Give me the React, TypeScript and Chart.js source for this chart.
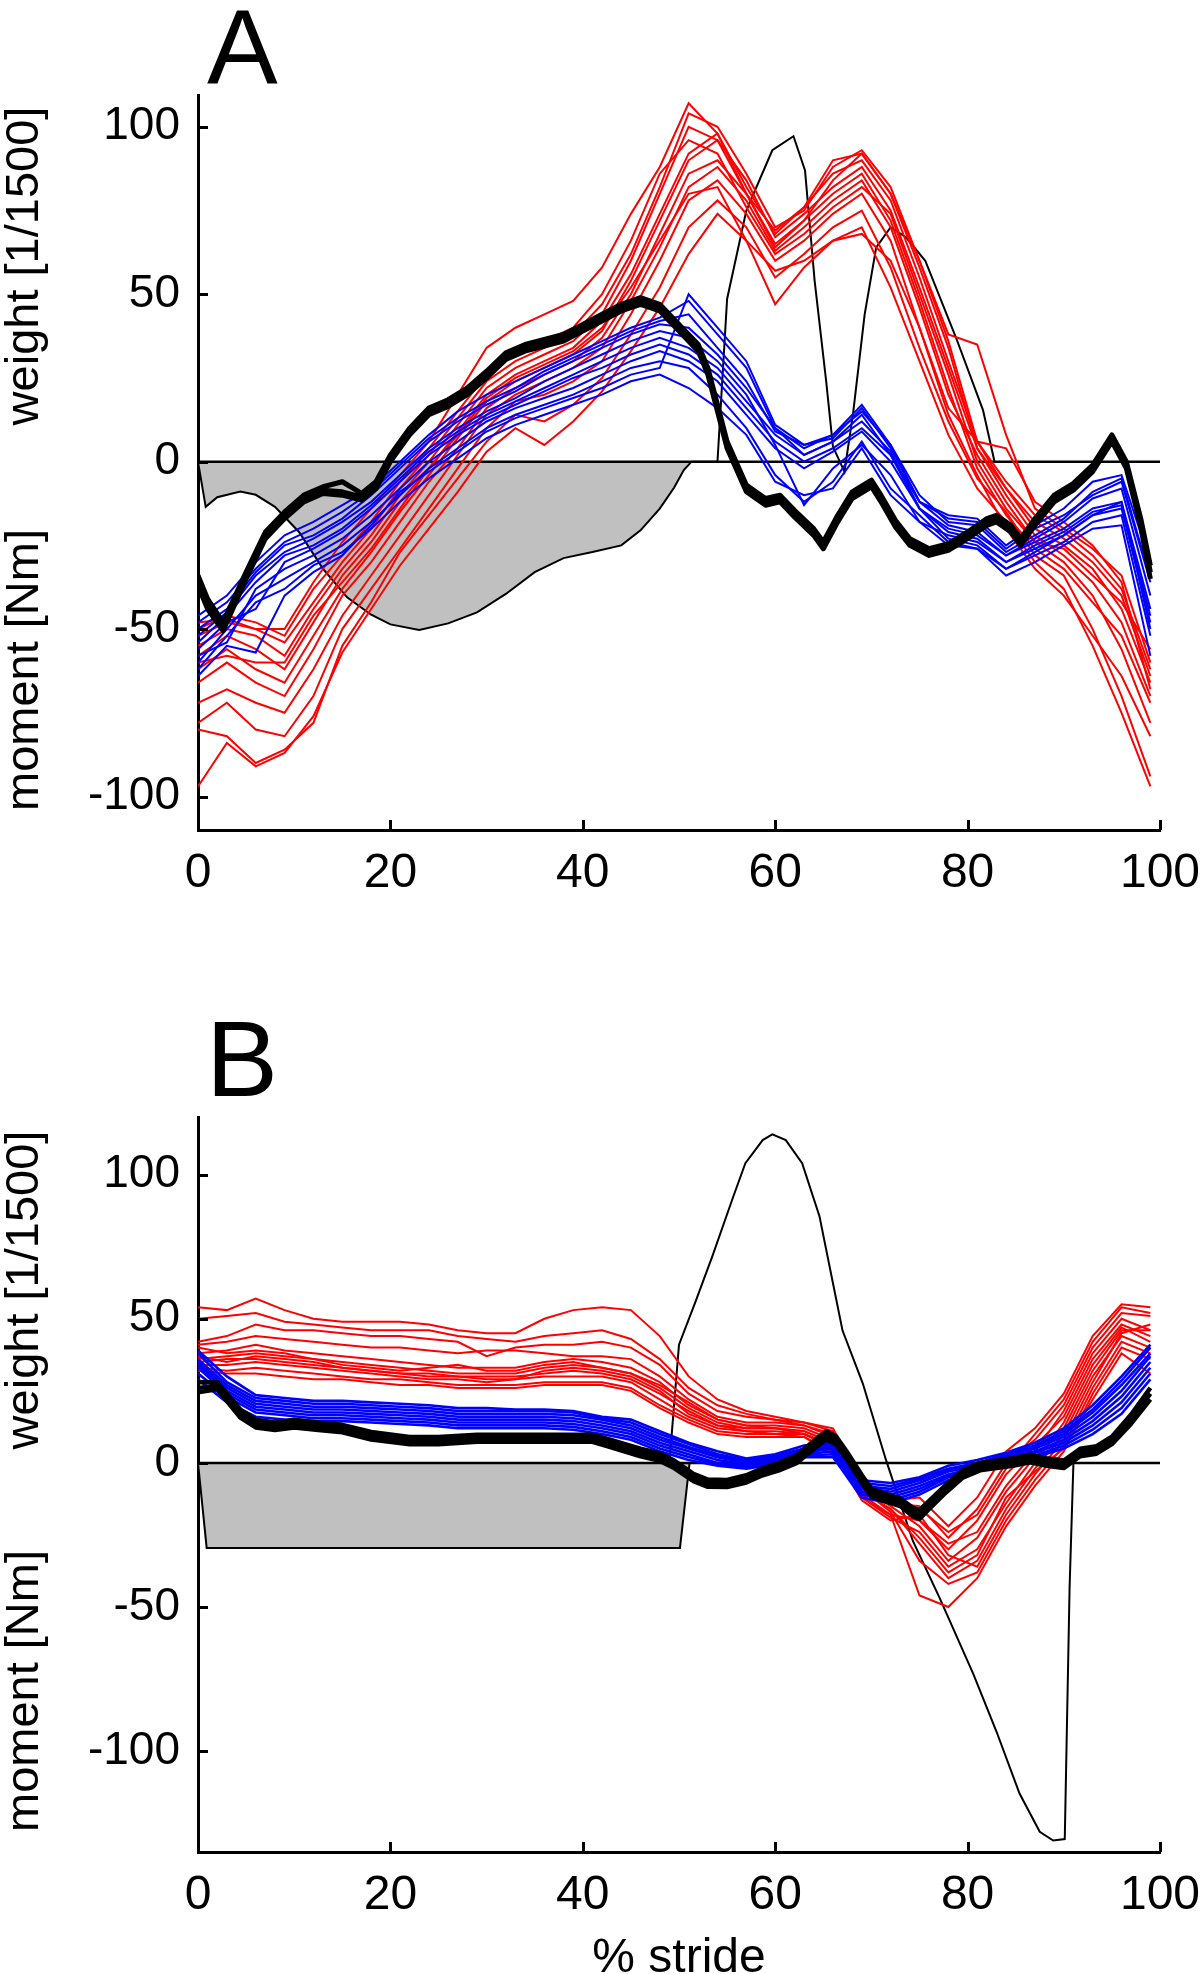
import React, { useEffect, useRef } from "react";
import { Chart, registerables } from "chart.js";

Chart.register(...registerables);

const FONT = "'Liberation Sans', Arial, Helvetica, sans-serif";

// ---------- shared axis values ----------
const xTickValues = [0, 20, 40, 60, 80, 100];
const yTickValues = [-100, -50, 0, 50, 100];
const zeroLineStride = [0, 100];
const zeroLineValue = [0, 0];

// common % stride grid for red / blue curves
const strideGrid = [0, 3, 6, 9, 12, 15, 18, 21, 24, 27, 30, 33, 36, 39, 42, 45, 48, 51, 54, 57, 60, 63, 66, 69, 72, 75, 78, 81, 84, 87, 90, 93, 96, 99];

// ================= PANEL A =================
const blackStrideA = [0, 1, 2.6, 5, 7, 9, 11, 13, 15, 17, 18.5, 20, 22, 24, 26, 28, 30, 32, 34, 36, 38, 40, 42, 44, 46, 48, 50, 52, 53, 54, 55, 57, 59, 60.5, 62, 64, 65, 66.5, 68, 70, 71, 72.5, 74, 76, 78, 80, 82, 83, 84.5, 85.5, 87, 89, 91, 93, 95, 96.5, 98, 99];
const blackA1 = [-35, -42, -49, -34, -22, -16, -11, -8.5, -9, -10.5, -7, 1, 9, 15, 17.5, 21, 26, 31.5, 34, 35.5, 37, 40, 43, 46, 48, 46, 40, 34, 27, 16, 5, -8, -12, -11, -15.5, -21, -25, -17, -10, -6.5, -11, -18.5, -24, -27, -25.5, -22, -18, -17, -20, -24, -18, -11, -7.5, -2, 7, -1, -18, -33];
const blackA2 = [-34, -41, -48, -33, -21, -15, -10, -7.5, -6, -9.5, -6, 2, 10, 16, 18.5, 22, 27, 32.5, 35, 36.5, 38, 41, 44, 47, 49, 47, 41, 35, 28, 17, 6, -7, -11, -10, -14.5, -20, -24, -16, -9, -5.5, -10, -17.5, -23, -26, -24.5, -21, -17, -16, -19, -23, -17, -10, -6.5, -1, 8, 0, -17, -31];
const blackA3 = [-37, -44, -50.5, -35, -23, -17, -12, -9.5, -10, -11.5, -8, 0, 8, 14, 16.5, 20, 25, 30.5, 33, 34.5, 36, 39, 42, 45, 47, 45, 39, 33, 26, 15, 4, -9, -13, -12, -16.5, -22, -26, -18, -11, -7.5, -12, -19.5, -25, -28, -26.5, -23, -19, -18, -21, -25, -19, -12, -8.5, -3, 6, -2, -19.5, -35];

const redA = [
  [-97, -84, -91, -87, -76, -57, -44, -31, -20, -9, 3, 10, 5, 12, 21, 33, 46, 62, 74, 66, 57, 60, 66, 70, 52, 30, 8, -8, -18, -30, -38, -55, -75, -97],
  [-80, -82, -90, -86, -78, -55, -42, -27, -16, -5, 6, 14, 12, 17, 25, 38, 52, 70, 78, 70, 55, 62, 70, 75, 58, 34, 12, -5, -15, -28, -34, -50, -70, -94],
  [-78, -72, -80, -82, -70, -50, -38, -26, -14, -2, 10, 18, 20, 24, 30, 44, 60, 78, 84, 74, 60, 66, 74, 80, 66, 40, 14, -4, -20, -32, -40, -52, -64, -82],
  [-72, -68, -72, -75, -62, -46, -34, -22, -10, 2, 14, 20, 24, 28, 34, 48, 64, 82, 88, 78, 63, 70, 78, 84, 70, 46, 20, 2, -12, -24, -30, -40, -56, -78],
  [-66, -60, -66, -70, -56, -40, -30, -18, -6, 4, 16, 22, 26, 30, 37, 50, 68, 86, 90, 80, 65, 72, 80, 86, 72, 48, 22, -2, -16, -26, -32, -42, -52, -72],
  [-62, -56, -62, -66, -52, -38, -27, -15, -4, 7, 18, 24, 28, 32, 39, 54, 72, 90, 96, 84, 67, 74, 82, 88, 75, 52, 28, 4, -10, -22, -28, -36, -48, -70],
  [-58, -52, -56, -62, -48, -34, -24, -12, -2, 9, 20, 26, 30, 34, 42, 56, 74, 92, 98, 82, 68, 76, 86, 90, 78, 55, 30, 6, -8, -20, -25, -32, -44, -66],
  [-55, -50, -52, -58, -44, -32, -22, -10, 0, 11, 22, 28, 32, 36, 44, 60, 80, 100, 96, 80, 64, 72, 84, 92, 80, 58, 34, 4, -8, -18, -23, -30, -40, -64],
  [-52, -48, -50, -54, -42, -30, -20, -8, 2, 13, 24, 30, 34, 38, 47, 62, 82, 104, 100, 86, 70, 75, 88, 93, 82, 60, 36, 6, -6, -16, -21, -28, -38, -62],
  [-50, -46, -48, -52, -38, -28, -18, -6, 4, 15, 26, 32, 36, 40, 50, 66, 86, 96, 92, 76, 62, 68, 76, 82, 74, 50, 26, 0, -14, -24, -26, -34, -42, -56],
  [-48, -47, -50, -50, -36, -24, -14, -4, 6, 20, 34, 40, 44, 48, 58, 74, 88, 107, 98, 80, 69, 76, 90, 92, 80, 60, 38, 35, 8, -14, -20, -26, -34, -60],
  [-60, -58, -60, -60, -46, -36, -26, -14, -2, 8, 19, 25, 29, 33, 40, 52, 66, 80, 82, 66, 47, 58, 66, 68, 60, 40, 16, 6, 4, -12, -18, -25, -36, -68],
];

const blueA = [
  [-62, -52, -42, -38, -31, -27, -20, -12, -5, 1, 7, 11, 14, 17, 20, 24, 26, 22, 16, 8, -6, -10, -8, 4, -10, -18, -22, -24, -30, -26, -22, -16, -14, -48],
  [-60, -50, -40, -35, -30, -25, -18, -10, -2, 4, 10, 14, 17, 20, 24, 28, 30, 28, 20, 10, -4, -12, -6, 6, -8, -16, -24, -26, -32, -28, -24, -18, -16, -52],
  [-58, -54, -38, -32, -28, -23, -16, -8, 0, 6, 12, 16, 19, 22, 26, 30, 33, 30, 24, 14, 4, -2, 3, 9, 0, -14, -20, -22, -28, -24, -20, -14, -12, -44],
  [-56, -48, -44, -30, -26, -21, -14, -6, 2, 8, 13, 17, 21, 25, 28, 32, 35, 32, 26, 16, 6, 0, 4, 10, 2, -12, -17, -18, -26, -20, -16, -10, -6, -36],
  [-54, -46, -36, -28, -25, -20, -13, -5, 3, 9, 14, 18, 22, 26, 30, 34, 37, 34, 28, 18, 8, 2, 6, 12, 3, -14, -21, -23, -30, -25, -21, -15, -13, -46],
  [-52, -45, -34, -27, -23, -18, -12, -4, 4, 10, 15, 19, 24, 28, 32, 36, 39, 37, 30, 20, 5, -13, -2, 5, -4, -18, -25, -26, -34, -30, -25, -20, -19, -58],
  [-50, -44, -33, -25, -22, -17, -10, -2, 6, 12, 17, 21, 26, 30, 34, 38, 41, 40, 32, 22, 10, 4, 8, 15, 5, -10, -18, -19, -27, -22, -17, -9, -5, -35],
  [-48, -42, -32, -24, -20, -15, -9, -1, 7, 13, 18, 22, 27, 31, 35, 39, 42, 44, 34, 24, 9, 5, 7, 16, 4, -12, -19, -21, -28, -23, -18, -11, -8, -40],
  [-46, -40, -30, -22, -18, -13, -8, 0, 8, 15, 20, 24, 28, 32, 36, 40, 43, 48, 38, 28, 10, 2, 6, 14, 2, -14, -23, -25, -32, -27, -22, -16, -12, -50],
  [-64, -55, -57, -40, -33, -28, -19, -9, -3, 3, 9, 13, 16, 19, 22, 26, 28, 50, 40, 30, 11, 5, 8, 17, 5, -12, -16, -17, -25, -19, -14, -6, -4, -30],
];

const stanceStrideA = [0, 0.8, 2, 4.4, 6, 8, 10.5, 13, 15.5, 18, 20, 23, 26, 29, 32, 35, 38, 41, 44, 46, 48, 49.5, 50.5, 51.3];
const stanceMomentA = [0, -13.5, -10.6, -8.9, -9.9, -13.5, -21, -32, -40.5, -45.7, -48.6, -50.3, -48.3, -45, -39.5, -33, -28.8, -27, -25, -20.5, -14, -7.7, -2.5, 0];
const swingStrideA = [51.3, 54, 55, 57, 59.7, 61.9, 63.1, 64.1, 65.3, 66, 67.2, 68.1, 69.3, 70.5, 72, 73.6, 75.6, 78.8, 81.6, 82.8];
const swingMomentA = [0, 0, 48.6, 75, 93, 97.2, 87, 54, 24, 4.5, -3, 14.5, 44, 64, 70, 67, 60, 37, 15.4, 0];

// ================= PANEL B =================
const blackStrideB = [0, 2, 3, 4.4, 6, 8, 10, 12.5, 15, 18, 22, 25, 29, 32, 36, 39, 41, 42.6, 44.3, 46, 48, 49.5, 51.5, 53, 55, 57, 58.7, 60.4, 62.2, 64, 65.3, 66.3, 67.4, 69, 70, 71.5, 73, 74.3, 75, 76, 77.8, 79.5, 81.3, 83, 84.7, 86.5, 88.2, 90, 91.7, 93.4, 95, 97, 99];
const blackB1 = [26, 26.8, 22.7, 17, 13.6, 12.7, 13.6, 12.7, 11.9, 9.4, 7.8, 7.8, 8.6, 8.6, 8.6, 8.6, 8.6, 7, 5.3, 3.6, 2, -0.5, -5, -7, -7.1, -5.5, -3, -1.3, 1.2, 6.1, 9.4, 7.8, 2.8, -5.5, -10.4, -12.1, -13.7, -17, -17.9, -14.6, -8.8, -3.8, -1.3, -0.5, 0.3, 1.5, 0.3, -0.5, 3.6, 4.5, 7.8, 15.2, 24];
const blackB2 = [28, 28, 24, 18.5, 15, 14, 15, 14, 13.2, 10.7, 9, 9, 9.8, 9.8, 9.8, 9.8, 9.8, 8.3, 6.6, 4.9, 3.3, 0.8, -3.8, -5.8, -5.9, -4.3, -1.8, 0, 2.5, 7.6, 11, 9.3, 4.1, -4.2, -9, -10.8, -12.4, -15.5, -16.4, -13.2, -7.5, -2.5, 0, 0.8, 1.6, 2.8, 1.6, 0.8, 4.9, 5.8, 9.1, 16.8, 26];
const blackB3 = [24.5, 25.5, 21.4, 15.7, 12.3, 11.4, 12.3, 11.4, 10.6, 8.1, 6.5, 6.5, 7.3, 7.3, 7.3, 7.3, 7.3, 5.7, 4, 2.3, 0.7, -1.8, -6.3, -8.3, -8.4, -6.8, -4.3, -2.6, -0.1, 4.8, 8.1, 6.5, 1.5, -6.8, -11.7, -13.4, -15, -18.5, -19.4, -16, -10.1, -5.1, -2.6, -1.8, -1, 0.2, -1, -1.8, 2.3, 3.2, 6.5, 13.6, 22];

const redB = [
  [54, 53, 57, 53, 50, 49, 49, 49, 48, 46, 45, 45, 50, 53, 54, 53, 44, 30, 22, 18, 16, 14, 12, -6, -13, -12, -22, -12, 4, 12, 24, 44, 55, 54],
  [50, 51, 52, 49, 48, 47, 46, 46, 46, 44, 43, 42, 44, 45, 46, 43, 36, 26, 20, 17, 15, 14, 11, -8, -14, -15, -26, -16, 0, 8, 20, 40, 52, 51],
  [42, 44, 48, 46, 46, 45, 44, 44, 43, 42, 37, 40, 41, 41, 42, 40, 34, 24, 18, 16, 15, 13, 10, -6, -12, -20, -30, -20, -4, 6, 16, 36, 48, 44],
  [41, 42, 44, 43, 42, 41, 40, 40, 39, 38, 39, 39, 38, 37, 37, 36, 30, 22, 16, 14, 14, 13, 9, -8, -15, -22, -34, -26, -10, 2, 12, 32, 46, 46],
  [38, 39, 41, 39, 38, 37, 36, 35, 34, 33, 33, 33, 35, 36, 35, 33, 28, 20, 15, 13, 13, 12, 8, -10, -16, -28, -40, -34, -16, -2, 10, 30, 44, 40],
  [36, 37, 38, 37, 36, 35, 34, 33, 32, 31, 31, 31, 33, 34, 33, 31, 26, 19, 14, 12, 12, 11, 7, -9, -17, -34, -42, -38, -20, -6, 6, 26, 42, 38],
  [35, 36, 36, 35, 34, 33, 32, 31, 31, 30, 30, 30, 31, 32, 31, 29, 24, 18, 13, 11, 11, 10, 6, -11, -18, -46, -50, -40, -22, -8, 4, 24, 40, 36],
  [34, 34, 35, 34, 33, 32, 31, 30, 29, 29, 28, 29, 30, 30, 30, 28, 22, 16, 12, 11, 10, 10, 5, -12, -19, -24, -36, -30, -14, 0, 14, 34, 47, 42],
  [33, 32, 33, 32, 31, 30, 29, 29, 28, 27, 27, 27, 28, 28, 28, 26, 20, 15, 11, 10, 10, 9, 4, -13, -20, -18, -32, -36, -18, -4, 8, 28, 45, 48],
  [32, 31, 31, 30, 29, 29, 28, 27, 27, 26, 26, 26, 27, 27, 27, 25, 19, 14, 10, 9, 9, 9, 3, -12, -18, -20, -28, -24, -8, 4, 18, 38, 50, 46],
  [40, 38, 39, 38, 36, 34, 33, 32, 33, 34, 32, 32, 34, 35, 33, 31, 27, 21, 15, 13, 12, 11, 7, -7, -14, -16, -24, -18, -2, 10, 22, 42, 54, 52],
  [37, 35, 37, 36, 35, 33, 32, 31, 30, 30, 29, 29, 32, 33, 32, 30, 25, 17, 13, 12, 12, 10, 6, -10, -16, -26, -38, -32, -12, -3, 5, 22, 38, 31],
];

const blueB = [
  [29, 21, 16, 15, 14.5, 14.5, 14, 13.5, 13, 12, 12, 12, 12, 11.5, 10, 8, 4, 1, -1, -2, -0.5, 2, 2, -12, -14, -11, -6, -3, 0, 2, 5, 10, 17, 29],
  [31, 23, 17.5, 16.5, 15.5, 15.5, 15, 14.5, 14, 13, 13, 13, 13, 12.5, 11, 9, 5, 2, -0.5, -1.5, 0, 2.5, 3, -11, -13, -10, -5, -2.5, 0.5, 2.5, 6, 11.5, 19, 31],
  [33, 24, 18.5, 17.5, 16.5, 16.5, 16, 15.5, 15, 14, 14, 14, 14, 13.5, 12, 10, 6, 3, 0, -1, 0.5, 3, 4, -10, -12, -9, -4.5, -2, 1, 3.5, 7, 13, 21, 33],
  [34, 25, 19.5, 18.5, 17.5, 17.5, 17, 16.5, 16, 15, 15, 15, 15, 14.5, 13, 11, 7, 4, 1, -0.5, 1, 3.5, 5, -9, -11, -8, -4, -1.5, 1.5, 4, 8, 14.5, 23, 35],
  [35, 26, 20.5, 19.5, 18.5, 18.5, 18, 17.5, 17, 16, 16, 16, 16, 15.5, 14, 12, 8, 5, 2, 0, 1.5, 4, 5.5, -8.5, -10, -7, -3, -1, 2, 5, 9, 16, 25, 37],
  [36, 27, 21.5, 20.5, 19.5, 19.5, 19, 18.5, 18, 17, 17, 17, 17, 16.5, 15, 13, 9, 5.5, 2.5, 0.5, 2, 4.5, 6, -8, -9, -6, -2.5, -0.5, 2.5, 5.5, 10, 17.5, 27, 38],
  [38, 28, 22.5, 21.5, 20.5, 20.5, 20, 19.5, 19, 18, 18, 18, 18, 17.5, 15.5, 14, 10, 6.5, 3, 1, 2.5, 5, 6.5, -7, -8, -5.5, -2, 0, 3, 6, 11, 18.5, 28.5, 40],
  [39, 30, 23.5, 22.5, 21.5, 21.5, 21, 20.5, 20, 19, 19, 18.5, 18.5, 18, 16, 15, 11, 7, 4, 1.5, 3, 6, 7, -6, -7, -5, -1, 1, 3.5, 7, 12, 20, 30, 41],
];

const stanceStrideB = [0, 0.9, 50.1, 51.1];
const stanceMomentB = [0, -29.5, -29.5, 0];
const swingStrideB = [49, 50, 51.7, 53.5, 55.6, 56.9, 58.7, 59.7, 61.1, 62.8, 64.6, 66, 67, 69.1, 71.5, 74.3, 77.1, 80.6, 83, 85.4, 87.5, 88.9, 90.1, 90.6, 91];
const swingMomentB = [0, 41, 55.8, 72, 92, 104, 112, 114, 112, 104, 85.6, 62.4, 45.9, 27.6, 1.2, -27, -46.9, -73.3, -93.2, -114.7, -128, -131, -130.5, -43.5, 0];

// ---------- helpers ----------
type Pt = { x: number; y: number };
function zip(xs: number[], ys: number[]): Pt[] {
  const n = Math.min(xs.length, ys.length);
  const out: Pt[] = [];
  for (let i = 0; i < n; i++) out.push({ x: xs[i], y: ys[i] });
  return out;
}

type PanelCfg = {
  canvasTop: number;
  canvasHeight: number;
  padTop: number;
  xAxisHeight: number;
  yMin: number;
  yMax: number;
  letter: string;
  letterSize: number;
  letterX: number;
  letterY: number;
  yTitles: { text: string; x: number; y: number }[];
  xTitle?: { text: string; x: number; y: number };
  red: number[][];
  blue: number[][];
  blueWidth: number;
  blackX: number[];
  black: number[][];
  blackWidth: number;
  stanceX: number[];
  stanceY: number[];
  swingX: number[];
  swingY: number[];
};

const panelA: PanelCfg = {
  canvasTop: 0,
  canvasHeight: 1000,
  padTop: 95,
  xAxisHeight: 170,
  yMin: -110,
  yMax: 109.5,
  letter: "A",
  letterSize: 106,
  letterX: 207,
  letterY: 83,
  yTitles: [
    { text: "weight [1/1500]", x: 38, y: 266 },
    { text: "moment [Nm]", x: 38, y: 670 },
  ],
  red: redA,
  blue: blueA,
  blueWidth: 2,
  blackX: blackStrideA,
  black: [blackA1, blackA2, blackA3],
  blackWidth: 5,
  stanceX: stanceStrideA,
  stanceY: stanceMomentA,
  swingX: swingStrideA,
  swingY: swingMomentA,
};

const panelB: PanelCfg = {
  canvasTop: 1000,
  canvasHeight: 974,
  padTop: 117,
  xAxisHeight: 122,
  yMin: -135,
  yMax: 120,
  letter: "B",
  letterSize: 108,
  letterX: 206,
  letterY: 96,
  yTitles: [
    { text: "weight [1/1500]", x: 38, y: 290 },
    { text: "moment [Nm]", x: 38, y: 691 },
  ],
  xTitle: { text: "% stride", x: 679, y: 972 },
  red: redB,
  blue: blueB,
  blueWidth: 2.6,
  blackX: blackStrideB,
  black: [blackB1, blackB2, blackB3],
  blackWidth: 4.5,
  stanceX: stanceStrideB,
  stanceY: stanceMomentB,
  swingX: swingStrideB,
  swingY: swingMomentB,
};

function buildDatasets(cfg: PanelCfg): any[] {
  const ds: any[] = [];
  ds.push({
    data: zip(cfg.stanceX, cfg.stanceY),
    borderColor: "#000000",
    borderWidth: 2,
    backgroundColor: "#c0c0c0",
    fill: "origin",
    order: 10,
  });
  ds.push({
    data: zip(zeroLineStride, zeroLineValue),
    borderColor: "#000000",
    borderWidth: 2.5,
    fill: false,
    order: 9,
  });
  ds.push({
    data: zip(cfg.swingX, cfg.swingY),
    borderColor: "#000000",
    borderWidth: 2,
    fill: false,
    order: 8,
  });
  cfg.red.forEach((r) =>
    ds.push({ data: zip(strideGrid, r), borderColor: "#ff0000", borderWidth: 2, fill: false, order: 7 })
  );
  cfg.blue.forEach((b) =>
    ds.push({ data: zip(strideGrid, b), borderColor: "#0000ff", borderWidth: cfg.blueWidth, fill: false, order: 6 })
  );
  cfg.black.forEach((k) =>
    ds.push({
      data: zip(cfg.blackX, k),
      borderColor: "#000000",
      borderWidth: cfg.blackWidth,
      borderJoinStyle: "round",
      fill: false,
      order: 5,
    })
  );
  return ds;
}

function makeDecor(cfg: PanelCfg) {
  return {
    id: "decor" + cfg.letter,
    afterDraw(chart: any) {
      const ctx: CanvasRenderingContext2D = chart.ctx;
      const area = chart.chartArea;
      const xs = chart.scales.x;
      const ys = chart.scales.y;
      ctx.save();
      ctx.strokeStyle = "#000";
      ctx.lineWidth = 3;
      ctx.lineCap = "butt";
      for (const v of yTickValues) {
        const py = Math.round(ys.getPixelForValue(v)) + 0.5;
        ctx.beginPath();
        ctx.moveTo(area.left, py);
        ctx.lineTo(area.left + 10, py);
        ctx.stroke();
      }
      for (const v of xTickValues) {
        const px = Math.round(xs.getPixelForValue(v)) + 0.5;
        ctx.beginPath();
        ctx.moveTo(px, area.bottom);
        ctx.lineTo(px, area.bottom - 10);
        ctx.stroke();
      }
      ctx.fillStyle = "#000";
      ctx.textAlign = "left";
      ctx.textBaseline = "alphabetic";
      ctx.font = `${cfg.letterSize}px ${FONT}`;
      ctx.fillText(cfg.letter, cfg.letterX, cfg.letterY);

      ctx.font = `47px ${FONT}`;
      ctx.textAlign = "center";
      for (const t of cfg.yTitles) {
        ctx.save();
        ctx.translate(t.x, t.y);
        ctx.rotate(-Math.PI / 2);
        ctx.fillText(t.text, 0, 0);
        ctx.restore();
      }
      if (cfg.xTitle) {
        ctx.font = `48px ${FONT}`;
        ctx.textAlign = "center";
        ctx.fillText(cfg.xTitle.text, cfg.xTitle.x, cfg.xTitle.y);
      }
      ctx.restore();
    },
  };
}

function Panel({ cfg }: { cfg: PanelCfg }) {
  const ref = useRef<HTMLCanvasElement | null>(null);
  useEffect(() => {
    if (!ref.current) return;
    const chart = new Chart(ref.current, {
      type: "line",
      data: { datasets: buildDatasets(cfg) },
      options: {
        animation: false,
        responsive: false,
        devicePixelRatio: 1,
        events: [],
        layout: { padding: { top: cfg.padTop, right: 40, left: 0, bottom: 0 } },
        elements: { point: { radius: 0 }, line: { tension: 0 } },
        plugins: {
          legend: { display: false },
          tooltip: { enabled: false },
          title: { display: false },
        },
        scales: {
          x: {
            type: "linear",
            min: 0,
            max: 100,
            bounds: "data",
            grid: { display: false, drawTicks: false, tickLength: 0 },
            border: { display: true, color: "#000", width: 3 },
            ticks: {
              color: "#000",
              font: { family: FONT, size: 48 },
              padding: 15,
              maxRotation: 0,
              autoSkip: false,
            },
            afterBuildTicks: (s: any) => {
              s.ticks = xTickValues.map((v) => ({ value: v }));
            },
            afterFit: (s: any) => {
              s.height = cfg.xAxisHeight;
              s.paddingLeft = 0;
              s.paddingRight = 0;
            },
          },
          y: {
            type: "linear",
            min: cfg.yMin,
            max: cfg.yMax,
            bounds: "data",
            grid: { display: false, drawTicks: false, tickLength: 0 },
            border: { display: true, color: "#000", width: 3 },
            ticks: {
              color: "#000",
              font: { family: FONT, size: 46 },
              padding: 18,
              autoSkip: false,
            },
            afterBuildTicks: (s: any) => {
              s.ticks = yTickValues.map((v) => ({ value: v }));
            },
            afterFit: (s: any) => {
              s.width = 198;
              s.paddingTop = 0;
              s.paddingBottom = 0;
            },
          },
        },
      } as any,
      plugins: [makeDecor(cfg)],
    });
    return () => chart.destroy();
  }, [cfg]);
  return (
    <canvas
      ref={ref}
      width={1200}
      height={cfg.canvasHeight}
      style={{
        position: "absolute",
        left: 0,
        top: cfg.canvasTop,
        width: 1200,
        height: cfg.canvasHeight,
        display: "block",
      }}
    />
  );
}

export default function App() {
  return (
    <div
      style={{
        position: "absolute",
        left: 0,
        top: 0,
        width: 1200,
        height: 1974,
        background: "#ffffff",
        overflow: "hidden",
      }}
    >
      <Panel cfg={panelA} />
      <Panel cfg={panelB} />
    </div>
  );
}
